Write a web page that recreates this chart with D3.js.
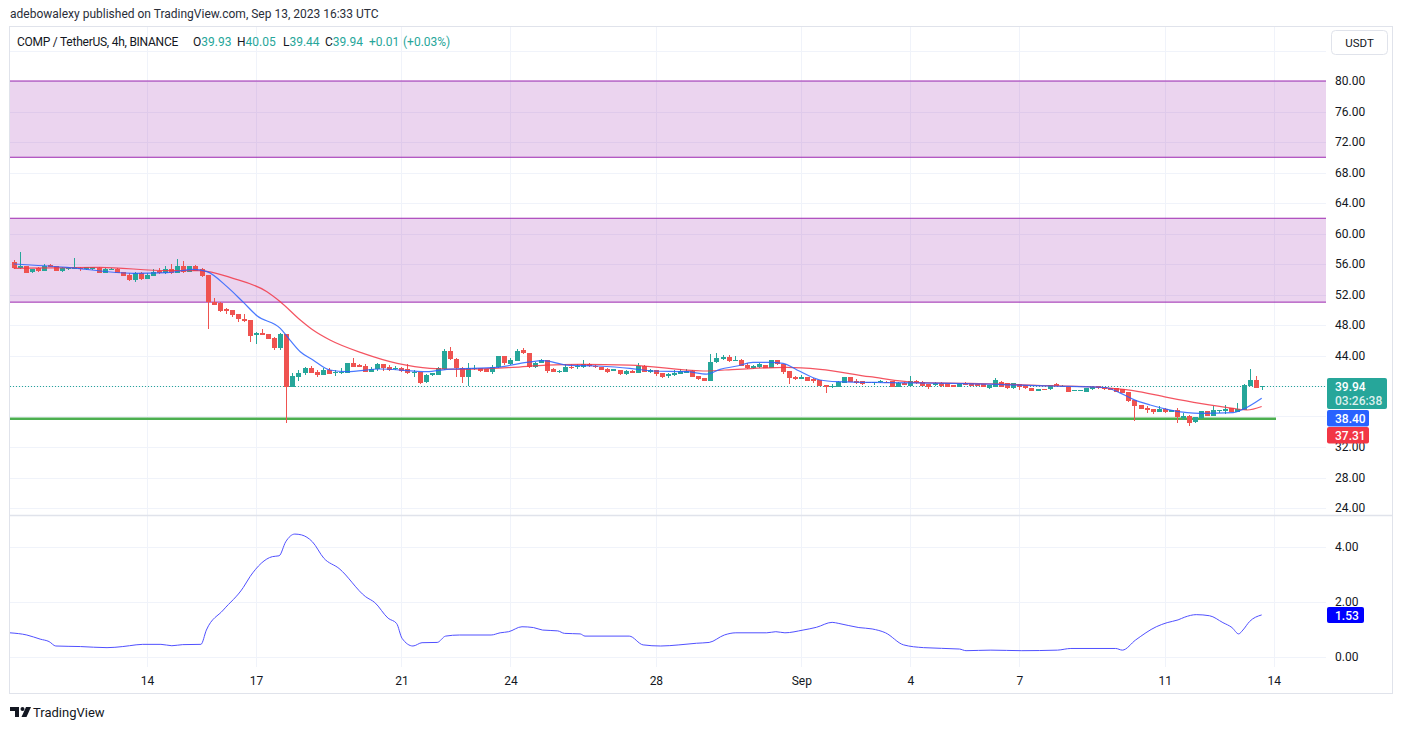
<!DOCTYPE html>
<html><head><meta charset="utf-8">
<script src="https://cdn.jsdelivr.net/npm/d3@7"></script>
<style>
body{margin:0;background:#fff}
svg{display:block}
text{font-family:Roboto,"Noto Sans",sans-serif}
</style>
</head><body>
<svg id="c" width="1401" height="730"></svg>
<script>
// ---------- DATA ----------
const startUTC = Date.UTC(2023, 7, 10, 8); // first 4h candle
const barHours = 4;
const opens = [56.31,55.48,55.74,54.91,55.43,55.13,55.83,55.74,55.13,55.30,55.34,55.52,55.30,55.30,55.52,54.86,55.30,55.39,54.95,54.60,53.90,54.86,54.08,54.43,55.04,54.78,55.34,54.86,55.74,55.00,55.74,55.34,54.51,51.06,50.93,50.10,49.97,49.44,48.79,48.66,46.65,46.95,46.82,46.34,45.03,46.82,39.87,41.22,41.66,42.41,41.88,41.44,42.10,41.66,41.70,41.75,42.97,42.71,42.67,41.88,42.19,42.88,42.54,42.19,42.41,42.19,41.66,41.88,40.57,41.40,41.44,42.19,44.59,43.54,42.32,41.14,42.27,42.32,42.23,41.88,42.45,43.93,42.88,43.32,44.72,44.28,42.45,43.06,43.41,42.23,41.79,41.88,42.54,42.45,42.54,42.88,42.67,42.45,42.19,41.97,42.10,41.53,42.01,41.75,42.62,41.88,42.10,41.75,41.31,41.44,41.62,41.66,42.01,41.31,41.00,40.70,43.10,43.58,43.85,43.32,43.41,42.75,42.41,42.45,42.75,42.41,43.41,42.88,41.97,41.14,40.92,41.14,40.87,40.79,40.13,39.82,39.91,40.44,41.14,40.66,40.66,40.57,40.35,40.48,40.57,40.66,39.91,40.44,40.04,40.70,40.57,40.22,40.13,40.44,40.35,40.13,39.91,40.44,40.35,40.26,40.22,39.69,39.91,40.57,40.35,39.69,40.26,40.13,39.78,39.39,39.56,39.56,40.26,39.91,40.00,39.34,39.34,39.26,39.56,40.00,39.83,39.69,39.69,39.56,39.17,38.17,37.51,37.07,36.94,36.63,36.94,36.63,36.85,35.76,36.07,35.23,35.76,36.72,36.11,36.72,36.77,37.07,36.63,36.85,40.00,40.79,39.93];
const highs = [56.53,57.57,55.80,55.40,55.65,56.00,56.00,55.80,55.56,55.56,56.79,55.65,55.60,55.60,55.56,55.42,55.42,55.42,54.98,54.78,54.90,54.90,54.78,55.30,55.43,55.74,56.00,56.61,56.44,55.80,55.87,55.43,54.55,51.50,51.06,50.23,50.00,49.50,49.44,48.70,47.08,47.48,46.85,46.47,46.91,46.85,41.66,42.10,42.54,42.62,42.10,42.32,42.32,42.10,42.32,43.00,43.63,42.84,42.84,42.45,42.97,42.90,42.71,42.62,42.45,42.84,42.10,41.90,41.53,41.75,42.45,44.85,45.16,43.63,42.54,43.06,42.75,42.35,42.25,42.75,44.00,43.95,43.63,44.81,45.03,44.30,43.10,43.50,43.42,42.41,42.05,42.84,42.84,42.88,43.41,43.06,42.70,42.47,42.32,42.20,42.12,42.05,42.05,42.97,42.75,42.27,42.12,41.77,41.66,42.10,42.19,42.19,42.05,41.33,41.09,44.20,44.33,44.07,44.07,43.93,43.50,42.97,42.75,42.97,42.77,43.45,43.43,42.90,41.99,41.31,41.44,41.16,41.00,40.81,40.15,40.26,40.60,41.16,41.16,40.87,40.68,40.59,40.57,40.79,40.70,40.68,40.46,40.46,41.31,40.79,40.66,40.24,40.57,40.46,40.37,40.15,40.37,40.46,40.37,40.28,40.24,40.15,41.00,40.60,40.37,40.40,40.28,40.15,39.80,39.60,39.60,40.15,40.35,40.10,40.02,39.50,39.52,39.71,39.95,40.02,39.85,39.71,39.71,39.58,39.26,38.19,37.53,37.38,36.96,37.38,37.07,36.87,37.07,36.42,36.20,35.91,36.74,36.74,37.38,36.87,37.51,37.09,37.81,40.20,42.19,41.31,40.05];
const lows = [55.30,55.34,54.80,54.85,54.91,55.10,55.56,55.10,55.00,55.25,55.30,55.13,55.25,55.25,54.82,54.84,55.28,54.84,54.40,53.77,53.68,53.95,53.99,54.40,54.69,54.69,54.69,54.84,54.86,54.98,55.10,54.25,47.48,50.58,49.75,49.44,49.09,48.44,48.44,45.81,45.51,46.69,46.18,44.72,44.72,35.10,39.82,40.70,41.44,41.66,41.22,41.40,41.55,41.31,41.57,41.70,42.45,42.45,41.79,41.85,42.01,42.01,42.01,42.15,41.88,41.57,41.22,40.26,40.44,41.31,41.40,42.15,43.41,41.22,40.44,40.04,42.10,41.88,41.85,41.53,42.40,42.75,42.75,43.30,44.20,42.40,42.40,42.97,41.75,41.79,41.75,41.85,42.27,42.27,42.32,42.54,42.40,42.05,41.75,41.95,41.50,41.50,41.70,41.72,41.85,41.75,41.35,41.09,41.00,41.35,41.53,41.64,41.20,40.85,40.68,40.68,42.97,43.41,43.19,43.28,42.62,42.19,42.27,42.32,42.30,42.39,42.75,41.53,40.22,40.79,40.90,40.68,40.44,39.98,39.13,39.80,39.89,40.42,40.46,40.26,40.13,40.33,40.13,40.35,40.35,39.89,39.89,40.11,40.02,40.26,40.02,39.61,40.04,39.82,39.82,39.89,39.89,40.11,40.02,39.98,39.81,39.67,39.90,39.85,39.60,39.67,39.48,39.65,39.35,39.37,39.45,39.50,39.98,39.89,39.24,39.30,39.30,39.24,39.54,39.67,39.54,39.46,39.20,39.10,37.86,35.45,36.96,36.42,36.28,36.61,36.42,36.60,35.10,35.54,34.80,35.20,35.67,36.09,36.09,36.50,36.33,36.60,36.60,36.80,39.98,39.69,39.44];
const closes = [55.43,55.74,54.86,55.34,55.13,55.74,55.65,55.13,55.48,55.52,55.56,55.30,55.56,55.56,54.86,55.39,55.39,54.86,54.43,53.90,54.86,53.99,54.60,54.99,54.78,55.34,54.78,55.74,55.00,55.74,55.13,54.43,51.06,50.67,49.88,49.88,49.31,48.79,48.53,46.60,47.00,46.73,46.21,45.03,46.82,39.87,41.31,41.75,42.41,41.75,41.44,42.10,41.57,41.79,41.88,42.97,42.54,42.54,41.88,42.23,42.88,42.32,42.10,42.32,42.01,41.66,41.88,40.44,41.40,41.66,42.32,44.63,43.50,42.32,41.14,42.32,42.41,42.01,41.88,42.45,43.93,42.97,43.41,44.63,44.28,42.45,43.06,43.41,42.01,41.88,42.01,42.54,42.45,42.67,42.84,42.62,42.45,42.10,41.88,42.19,41.53,42.01,41.75,42.62,41.88,42.10,41.53,41.22,41.53,41.75,41.97,42.01,41.22,40.87,40.70,43.10,43.67,43.85,43.32,43.41,42.67,42.41,42.67,42.84,42.32,43.41,42.84,41.88,41.00,40.96,41.22,40.70,40.70,40.00,39.82,40.00,40.57,41.14,40.48,40.44,40.26,40.35,40.48,40.66,40.48,39.91,40.44,40.13,40.70,40.35,40.04,39.82,40.44,40.00,39.91,39.91,40.35,40.13,40.04,40.00,39.83,40.13,40.79,39.91,39.69,40.35,39.91,39.69,39.39,39.56,39.48,40.13,40.00,40.00,39.26,39.48,39.48,39.69,39.91,39.69,39.56,39.48,39.26,39.13,38.08,37.42,36.98,36.85,36.63,36.94,36.55,36.85,35.89,36.07,35.19,35.89,36.72,36.11,36.85,36.85,36.98,36.63,36.94,40.13,40.79,39.78,39.94];

// moving averages (bar position, value)
const maBlueBar = [0,8.8,19.7,25.3,29.6,31.9,35.2,37.8,40.2,44.0,45.6,47.3,49.4,52.2,55.0,60.5,68.2,71.5,79.8,84.7,87.4,91.3,96.3,101.7,105.5,111.1,114.4,116.6,119.4,122.0,124.8,127.0,129.3,133.1,135.9,144.2,155.0,171.1,180.1,182.6,184.8,187.6,190.4,193.7,195.8,201.3,202.9,206];
const maBlueVal = [56.0,55.56,54.78,54.86,55.3,55.0,53.03,51.06,49.18,47.56,46.03,44.5,43.41,42.1,41.88,42.23,41.88,42.19,42.45,43.1,43.32,42.75,42.62,42.32,41.97,41.88,41.57,42.19,42.62,43.1,43.1,42.97,42.1,40.79,40.57,40.44,40.35,40.0,39.8,39.1,38.25,37.51,36.94,36.5,36.42,36.5,36.94,38.40];
const maRedBar = [0,14.2,25.3,30.7,36.2,41.8,44.0,47.3,49.4,52.2,57.7,63.3,68.7,74.2,82.4,88.0,93.5,101.7,113.8,119.4,127.6,133.1,141.3,149.6,157.8,171.1,179.3,184.8,190.4,195.8,201.3,203.6,206];
const maRedVal = [55.43,55.56,55.13,55.13,54.12,52.37,51.06,48.66,47.34,46.03,44.28,42.97,42.32,42.19,42.45,42.75,42.84,42.75,41.97,42.19,42.45,42.19,41.22,40.44,40.35,40.04,39.83,39.39,38.51,37.73,37.07,36.85,37.31];

// lower-pane indicator
const indBar = [-0.65,2.16,4.37,5.84,6.94,11.0,15.4,18.0,19.1,21.3,24.3,26.1,27.9,30.9,31.8,34.6,37.9,39.0,42.7,43.8,44.9,46.4,47.5,49.3,51.2,53.7,58.1,59.6,61.8,63.2,64.1,65.9,67.4,69.9,71.3,73.6,78.8,80.3,81.7,83.9,85.8,87.3,89.8,90.9,93.5,94.3,101.6,103.9,106.8,109.8,112.7,114.8,117.3,119.2,124.3,125.8,127.3,130.3,132.5,135.1,136.2,139.5,141.7,143.9,146.9,150.2,156.1,157.2,161.3,166.4,172.3,174.5,181.9,183.0,185.2,188.6,190.4,192.2,193.3,195.2,197.4,199.6,201.1,202.2,202.9,204.0,206.0];
const indVal = [0.88,0.80,0.65,0.56,0.40,0.38,0.34,0.38,0.41,0.46,0.46,0.41,0.45,0.46,0.98,1.71,2.53,2.92,3.65,3.68,4.19,4.47,4.44,4.19,3.59,3.22,2.19,1.98,1.41,1.22,0.68,0.40,0.52,0.53,0.76,0.80,0.80,0.88,0.92,1.10,1.07,0.98,0.95,0.86,0.84,0.76,0.76,0.44,0.40,0.44,0.50,0.53,0.80,0.88,0.88,0.92,0.88,0.98,1.08,1.26,1.22,1.07,1.02,0.88,0.44,0.34,0.29,0.23,0.25,0.23,0.25,0.31,0.31,0.25,0.62,1.10,1.25,1.35,1.45,1.54,1.50,1.25,1.07,0.84,0.98,1.29,1.53];

const timeTickDates = ["2023-08-14","2023-08-17","2023-08-21","2023-08-24","2023-08-28","2023-09-01","2023-09-04","2023-09-07","2023-09-11","2023-09-14"];
const timeTickLabels = ["14","17","21","24","28","Sep","4","7","11","14"];
const priceTicks = [24,28,32,36,40,44,48,52,56,60,64,68,72,76,80];
const priceGrid = [24,28,32,36,40,44,48,52,56,60,64,68,72,76,80,84];
const indTicks = [0,2,4];
const zoneUpper = [70, 80];
const zoneLower = [51, 62];
const supportLevel = 35.7;
const lastPrice = 39.94, lastBlue = 38.40, lastRed = 37.31, lastInd = 1.53;

// ---------- LAYOUT ----------
const svg = d3.select("#c");
const paneL = 10, paneR = 1326, mainT = 27, mainB = 514, indT = 516, indB = 667;
const axisX = 1327, frameR = 1392, frameB = 693;
const n = closes.length;
const barStep = 6.058, firstX = 13.73;
const xB = d3.scaleLinear().domain([0, n - 1]).range([firstX, firstX + (n - 1) * barStep]);
const tEnd = startUTC + (n - 1) * barHours * 3600e3;
const xT = d3.scaleUtc().domain([new Date(startUTC), new Date(tEnd)]).range(xB.range());
const yP = d3.scaleLinear().domain([24, 80]).range([508, 81]);
const yI = d3.scaleLinear().domain([0, 4]).range([657, 547]);
const C_UP = "#26a69a", C_DN = "#ef5350", GRID = "#f0f3fa", BORDER = "#e0e3eb", TXT = "#131722";

svg.append("rect").attr("width", 1401).attr("height", 730).attr("fill", "#fff");
const defs = svg.append("defs");
defs.append("clipPath").attr("id", "cm").append("rect").attr("x", paneL).attr("y", mainT).attr("width", paneR - paneL).attr("height", mainB - mainT);
defs.append("clipPath").attr("id", "ci").append("rect").attr("x", paneL).attr("y", indT).attr("width", paneR - paneL).attr("height", indB - indT);

// grids
const grid = svg.append("g").attr("stroke", GRID).attr("stroke-width", 1).attr("shape-rendering", "crispEdges");
grid.selectAll(".hp").data(priceGrid).join("line")
  .attr("x1", paneL).attr("x2", paneR).attr("y1", d => Math.round(yP(d)) + 0.5).attr("y2", d => Math.round(yP(d)) + 0.5);
grid.selectAll(".hi").data(indTicks).join("line").attr("class", "hi")
  .attr("x1", paneL).attr("x2", paneR).attr("y1", d => Math.round(yI(d)) + 0.5).attr("y2", d => Math.round(yI(d)) + 0.5);
const tickDates = timeTickDates.map(s => new Date(s + "T00:00:00Z"));
grid.selectAll(".v").data(tickDates).join("line").attr("class", "v")
  .attr("x1", d => Math.round(xT(d)) + 0.5).attr("x2", d => Math.round(xT(d)) + 0.5)
  .attr("y1", mainT).attr("y2", indB);

// main pane
const main = svg.append("g").attr("clip-path", "url(#cm)");
[zoneUpper, zoneLower].forEach(z => {
  main.append("rect").attr("x", paneL).attr("width", paneR - paneL)
    .attr("y", yP(z[1])).attr("height", yP(z[0]) - yP(z[1]))
    .attr("fill", "rgba(156,39,176,0.2)");
  z.forEach(v => main.append("line").attr("x1", paneL).attr("x2", paneR)
    .attr("y1", yP(v)).attr("y2", yP(v)).attr("stroke", "#9c27b0").attr("stroke-width", 1));
});
main.append("line").attr("x1", paneL).attr("x2", 1276).attr("y1", yP(supportLevel)).attr("y2", yP(supportLevel))
  .attr("stroke", "#4caf50").attr("stroke-width", 2.5);
main.append("line").attr("x1", paneL).attr("x2", paneR).attr("y1", Math.round(yP(lastPrice)) + 0.5).attr("y2", Math.round(yP(lastPrice)) + 0.5)
  .attr("stroke", C_UP).attr("stroke-width", 1).attr("stroke-dasharray", "1,2");

const idx = d3.range(n);
const cg = main.append("g").attr("shape-rendering", "crispEdges");
cg.selectAll(".w").data(idx).join("rect")
  .attr("x", i => Math.round(xB(i)))
  .attr("width", 1)
  .attr("y", i => yP(highs[i]))
  .attr("height", i => Math.max(1, yP(lows[i]) - yP(highs[i])))
  .attr("fill", i => closes[i] >= opens[i] ? C_UP : C_DN);
cg.selectAll(".b").data(idx).join("rect").attr("class", "b")
  .attr("x", i => Math.round(xB(i)) - 2)
  .attr("width", 5)
  .attr("y", i => yP(Math.max(opens[i], closes[i])))
  .attr("height", i => Math.max(1, Math.abs(yP(opens[i]) - yP(closes[i]))))
  .attr("fill", i => closes[i] >= opens[i] ? C_UP : C_DN);

const lineMA = d3.line().x(d => xB(d[0])).y(d => yP(d[1])).curve(d3.curveMonotoneX);
main.append("path").attr("d", lineMA(d3.zip(maRedBar, maRedVal))).attr("fill", "none").attr("stroke", "#f23645").attr("stroke-width", 1.2).attr("stroke-opacity", 0.85);
main.append("path").attr("d", lineMA(d3.zip(maBlueBar, maBlueVal))).attr("fill", "none").attr("stroke", "#2962ff").attr("stroke-width", 1.2).attr("stroke-opacity", 0.85);

// indicator pane
const ind = svg.append("g").attr("clip-path", "url(#ci)");
const lineInd = d3.line().x(d => xB(d[0])).y(d => yI(d[1])).curve(d3.curveMonotoneX);
ind.append("path").attr("d", lineInd(d3.zip(indBar, indVal))).attr("fill", "none").attr("stroke", "#5050ff").attr("stroke-width", 1);

// frame
svg.append("rect").attr("x", 9.5).attr("y", 26.5).attr("width", frameR - 9).attr("height", frameB - 26)
  .attr("fill", "none").attr("stroke", BORDER).attr("stroke-width", 1);
svg.append("line").attr("x1", 9.5).attr("x2", frameR + 0.5).attr("y1", 515.5).attr("y2", 515.5).attr("stroke", BORDER).attr("stroke-width", 1.5);

// price axis
const pAxis = svg.append("g").attr("transform", `translate(${axisX},0)`)
  .call(d3.axisRight(yP).tickValues(priceTicks).tickFormat(d3.format(".2f")).tickSize(0).tickPadding(8));
pAxis.select(".domain").remove();
pAxis.selectAll("text").attr("fill", TXT).attr("font-size", 12).attr("font-family", "Roboto,sans-serif");
const iAxis = svg.append("g").attr("transform", `translate(${axisX},0)`)
  .call(d3.axisRight(yI).tickValues(indTicks).tickFormat(d3.format(".2f")).tickSize(0).tickPadding(8));
iAxis.select(".domain").remove();
iAxis.selectAll("text").attr("fill", TXT).attr("font-size", 12).attr("font-family", "Roboto,sans-serif");

// time axis
const tAxis = svg.append("g").attr("transform", `translate(0,${indB})`)
  .call(d3.axisBottom(xT).tickValues(tickDates).tickFormat((d, i) => timeTickLabels[i]).tickSize(0).tickPadding(9));
tAxis.select(".domain").remove();
tAxis.selectAll("text").attr("fill", TXT).attr("font-size", 12).attr("font-family", "Roboto,sans-serif");

// price labels
function tag(y, h, w, fill, lines) {
  const g = svg.append("g");
  g.append("rect").attr("x", axisX).attr("y", y).attr("width", w).attr("height", h).attr("rx", 2).attr("fill", fill);
  lines.forEach((t, k) => g.append("text").attr("x", axisX + 8).attr("y", y + 8.5 + k * 14.5).attr("dy", "0.35em")
    .attr("fill", "#fff").attr("fill-opacity", k === 0 ? 1 : 0.85).attr("font-size", 12).attr("font-weight", 500).text(t));
}
tag(378, 31, 60, C_UP, [d3.format(".2f")(lastPrice), "03:26:38"]);
tag(410, 16.5, 42, "#2962ff", [d3.format(".2f")(lastBlue)]);
tag(427, 16.5, 42, "#f23645", [d3.format(".2f")(lastRed)]);
tag(607, 16, 37, "#0000ff", [d3.format(".2f")(lastInd)]);

// currency button
svg.append("rect").attr("x", 1331.5).attr("y", 30.5).attr("width", 56).attr("height", 24).attr("rx", 4)
  .attr("fill", "#fff").attr("stroke", BORDER);
svg.append("text").attr("x", 1359.5).attr("y", 43).attr("dy", "0.35em").attr("text-anchor", "middle")
  .attr("fill", TXT).attr("font-size", 11.5).text("USDT");

// header texts
svg.append("text").attr("x", 10).attr("y", 14).attr("dy", "0.35em").attr("fill", "#2a2e39").attr("font-size", 12)
  .text("adebowalexy published on TradingView.com, Sep 13, 2023 16:33 UTC");
const lg = svg.append("text").attr("y", 41.5).attr("dy", "0.35em").attr("font-size", 12).attr("fill", TXT);
lg.append("tspan").attr("x", 17).attr("letter-spacing", -0.25).text("COMP / TetherUS, 4h, BINANCE");
const ohlc = [["O", opens[n-1], 193], ["H", highs[n-1], 237], ["L", lows[n-1], 283], ["C", closes[n-1], 325]];
ohlc.forEach(([k, v, x]) => {
  lg.append("tspan").attr("x", x).attr("fill", TXT).text(k);
  lg.append("tspan").attr("fill", C_UP).text(d3.format(".2f")(v));
});
lg.append("tspan").attr("x", 369).attr("fill", C_UP).text("+0.01");
lg.append("tspan").attr("x", 403).attr("fill", C_UP).text("(+0.03%)");

// footer logo
const logo = svg.append("g").attr("fill", TXT);
logo.append("path").attr("d", "M10,707 h9 v10 h-4 v-6 h-5 z");
logo.append("circle").attr("cx", 22.5).attr("cy", 709).attr("r", 2);
logo.append("path").attr("d", "M26,707 h5 l-4.5,10 h-5 z");
svg.append("text").attr("x", 33).attr("y", 712).attr("dy", "0.35em").attr("fill", TXT).attr("font-size", 13).text("TradingView");
</script>
</body></html>
